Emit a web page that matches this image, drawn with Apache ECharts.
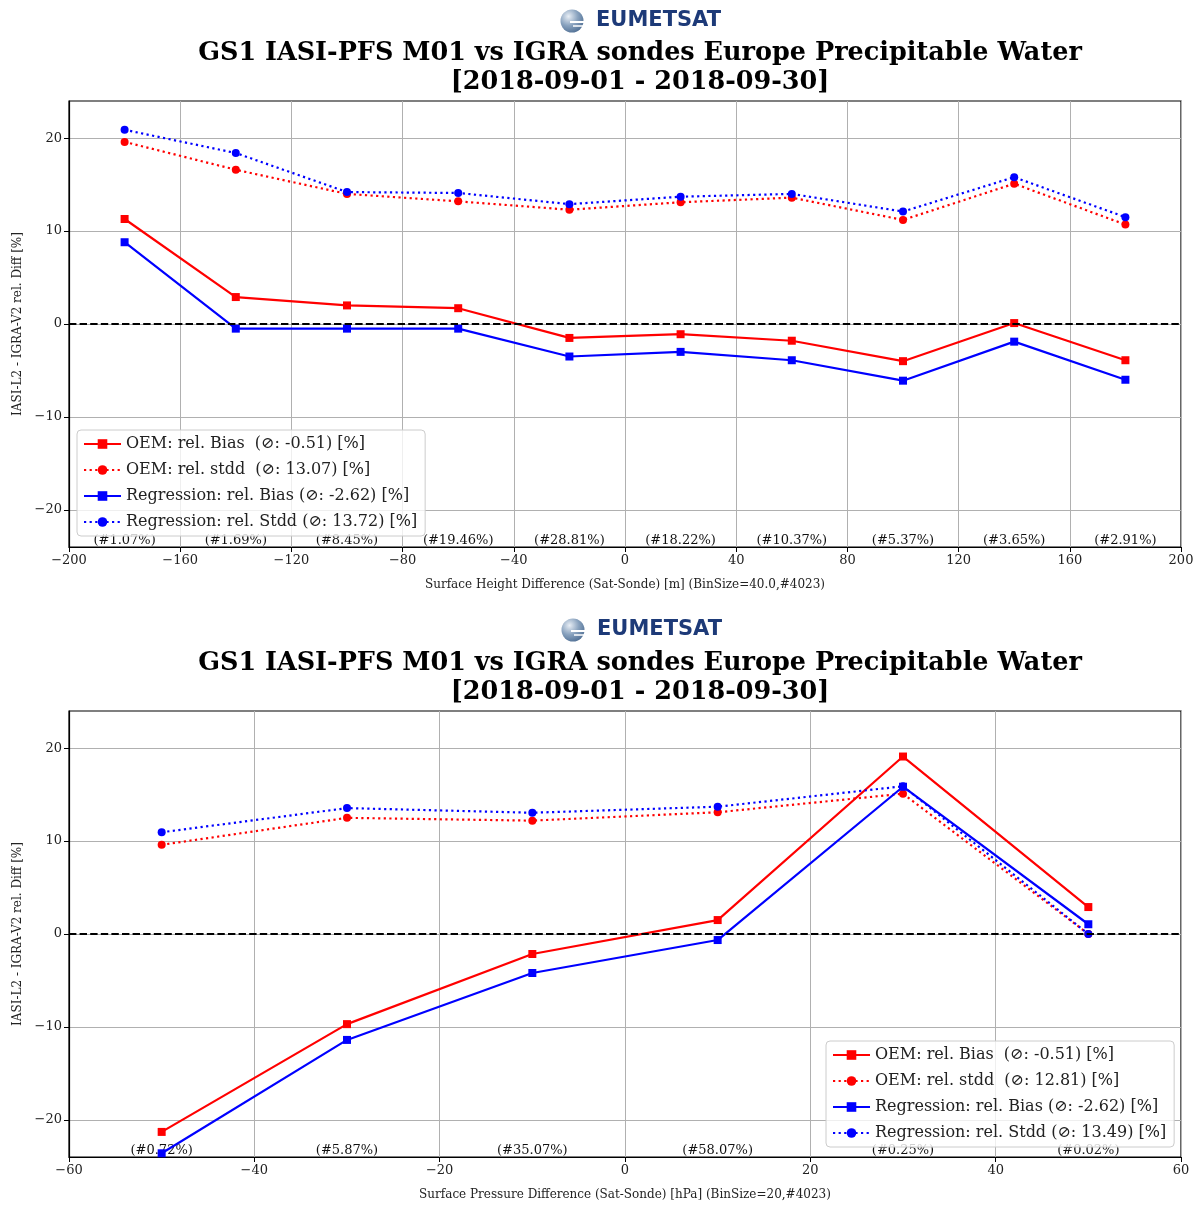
<!DOCTYPE html>
<html>
<head>
<meta charset="utf-8">
<script src="https://cdn.jsdelivr.net/npm/echarts@6/dist/echarts.min.js"></script>
<style>
html,body{margin:0;padding:0;background:#fff;}
#chart{width:1200px;height:1207px;}
</style>
</head>
<body>
<div id="chart"></div>
<script>
// ---------- DATA ----------
const topX = [-180, -140, -100, -60, -20, 20, 60, 100, 140, 180];
const topOemBias = [11.3, 2.9, 2.0, 1.7, -1.5, -1.1, -1.8, -4.0, 0.1, -3.9];
const topOemStdd = [19.6, 16.6, 14.0, 13.2, 12.3, 13.1, 13.6, 11.2, 15.1, 10.7];
const topRegBias = [8.8, -0.5, -0.5, -0.5, -3.5, -3.0, -3.9, -6.1, -1.9, -6.0];
const topRegStdd = [20.9, 18.4, 14.2, 14.1, 12.9, 13.7, 14.0, 12.1, 15.8, 11.5];
const topCounts = ['(#1.07%)', '(#1.69%)', '(#8.45%)', '(#19.46%)', '(#28.81%)', '(#18.22%)', '(#10.37%)', '(#5.37%)', '(#3.65%)', '(#2.91%)'];
const topNames = ['OEM: rel. Bias  (\u2298: -0.51) [%]', 'OEM: rel. stdd  (\u2298: 13.07) [%]', 'Regression: rel. Bias (\u2298: -2.62) [%]', 'Regression: rel. Stdd (\u2298: 13.72) [%]'];

const botX = [-50, -30, -10, 10, 30, 50];
const botOemBias = [-21.3, -9.7, -2.15, 1.5, 19.1, 2.9];
const botOemStdd = [9.6, 12.5, 12.2, 13.1, 15.1, 0.0];
const botRegBias = [-23.6, -11.4, -4.2, -0.65, 15.85, 1.05];
const botRegStdd = [10.95, 13.55, 13.05, 13.7, 15.9, 0.0];
const botCounts = ['(#0.72%)', '(#5.87%)', '(#35.07%)', '(#58.07%)', '(#0.25%)', '(#0.02%)'];
const botNames = ['OEM: rel. Bias  (\u2298: -0.51) [%]', 'OEM: rel. stdd  (\u2298: 12.81) [%]', 'Regression: rel. Bias (\u2298: -2.62) [%]', 'Regression: rel. Stdd (\u2298: 13.49) [%]'];

const yTicks = [-20, -10, 0, 10, 20];
const titleLine1 = 'GS1 IASI-PFS M01 vs IGRA sondes Europe Precipitable Water';
const titleLine2 = '[2018-09-01 - 2018-09-30]';
const topXName = 'Surface Height Difference (Sat-Sonde) [m] (BinSize=40.0,#4023)';
const botXName = 'Surface Pressure Difference (Sat-Sonde) [hPa] (BinSize=20,#4023)';
const yName = 'IASI-L2 - IGRA-V2 rel. Diff [%]';

// ---------- STYLE ----------
const FONT = 'DejaVu Serif';
const RED = '#ff0000', BLUE = '#0000ff';
const fmtMinus = v => String(v).replace('-', '\u2212');
const zip = (xs, ys) => xs.map((x, i) => [x, ys[i]]);

function xAxisCfg(gridIndex, min, max, interval, name) {
  return {
    type: 'value', gridIndex, min, max, interval,
    name, nameLocation: 'middle', nameGap: 32,
    nameTextStyle: { fontFamily: FONT, fontSize: 12, color: '#222' },
    axisLine: { show: true, onZero: false, lineStyle: { color: '#000', width: 1.2 } },
    axisTick: { show: true, length: 5, inside: false, lineStyle: { color: '#000', width: 1 } },
    axisLabel: { fontFamily: FONT, fontSize: 13, color: '#222', margin: 7, formatter: fmtMinus },
    splitLine: { show: true, lineStyle: { color: '#b0b0b0', width: 1 } }
  };
}
function yAxisCfg(gridIndex) {
  return {
    type: 'value', gridIndex, min: -24, max: 24,
    name: yName, nameLocation: 'middle', nameGap: 45,
    nameTextStyle: { fontFamily: FONT, fontSize: 12, color: '#222' },
    axisLine: { show: true, onZero: false, lineStyle: { color: '#000', width: 1.2 } },
    axisTick: { show: true, length: 5, customValues: yTicks, lineStyle: { color: '#000', width: 1 } },
    axisLabel: { fontFamily: FONT, fontSize: 13, color: '#222', margin: 7, customValues: yTicks, formatter: fmtMinus },
    splitLine: { show: true, lineStyle: { color: '#b0b0b0', width: 1 } }
  };
}
function lineSeries(name, idx, xs, ys, color, dotted, zeroLine) {
  const s = {
    type: 'line', name, xAxisIndex: idx, yAxisIndex: idx,
    data: zip(xs, ys),
    symbol: dotted ? 'circle' : 'rect',
    symbolSize: 8,
    showSymbol: true,
    lineStyle: { color, width: 2.2, type: dotted ? [2.2, 3.4] : 'solid' },
    itemStyle: { color },
    emphasis: { disabled: true },
    animation: false,
    z: 3
  };
  if (zeroLine) {
    s.markLine = {
      silent: true, symbol: 'none', animation: false,
      label: { show: false },
      lineStyle: { color: '#000', width: 2, type: [7.4, 3.2] },
      data: [{ yAxis: 0 }]
    };
  }
  return s;
}
function countSeries(idx, xs, labels) {
  return {
    type: 'scatter', xAxisIndex: idx, yAxisIndex: idx,
    data: xs.map((x, i) => ({ value: [x, -24], name: labels[i] })),
    symbolSize: 1, itemStyle: { color: 'rgba(0,0,0,0)' }, clip: false,
    label: { show: true, position: 'top', distance: -1, formatter: '{b}', fontFamily: FONT, fontSize: 13, color: '#111', opacity: 1 },
    labelLayout: { hideOverlap: false },
    emphasis: { disabled: true }, silent: true, animation: false, z: 1
  };
}
function legendCfg(names, left, top) {
  return {
    data: names, orient: 'vertical', left, top,
    itemWidth: 37, itemHeight: 12, itemGap: 8,
    padding: [5, 8, 5, 6],
    backgroundColor: 'rgba(255,255,255,0.8)',
    borderColor: '#cccccc', borderWidth: 1, borderRadius: 4,
    selectedMode: false,
    textStyle: { fontFamily: FONT, fontSize: 16, color: '#222', lineHeight: 18 }
  };
}
function logo(cx, cy) {
  return [
    { type: 'circle', shape: { cx, cy, r: 11.5 },
      style: { fill: { type: 'radial', x: 0.35, y: 0.3, r: 0.8,
        colorStops: [{ offset: 0, color: '#e8eef5' }, { offset: 0.5, color: '#8aa3bf' }, { offset: 1, color: '#4a6a90' }] } } },
    { type: 'line', shape: { x1: cx - 2, y1: cy + 1, x2: cx + 13, y2: cy + 1 }, style: { stroke: '#ffffff', lineWidth: 2 } },
    { type: 'line', shape: { x1: cx + 1, y1: cy + 5, x2: cx + 13, y2: cy + 5 }, style: { stroke: '#ffffff', lineWidth: 1.5 } },
    { type: 'text', x: cx + 24, y: cy, style: { text: 'EUMETSAT', font: 'bold 21px "DejaVu Sans"', fill: '#1d3a78', textVerticalAlign: 'middle' } }
  ];
}
function title(cy1) {
  return [
    { type: 'text', x: 640, y: cy1, style: { text: titleLine1, font: 'bold 25.5px "DejaVu Serif"', fill: '#000', textAlign: 'center', textVerticalAlign: 'middle' } },
    { type: 'text', x: 640, y: cy1 + 29, style: { text: titleLine2, font: 'bold 25.5px "DejaVu Serif"', fill: '#000', textAlign: 'center', textVerticalAlign: 'middle' } }
  ];
}

const option = {
  backgroundColor: '#fff',
  animation: false,
  grid: [
    { left: 69, top: 101, width: 1112, height: 446, show: true, borderColor: '#000', borderWidth: 1.2, backgroundColor: 'transparent', outerBoundsMode: 'none', containLabel: false },
    { left: 69, top: 711, width: 1112, height: 446, show: true, borderColor: '#000', borderWidth: 1.2, backgroundColor: 'transparent', outerBoundsMode: 'none', containLabel: false }
  ],
  xAxis: [
    xAxisCfg(0, -200, 200, 40, topXName),
    xAxisCfg(1, -60, 60, 20, botXName)
  ],
  yAxis: [yAxisCfg(0), yAxisCfg(1)],
  legend: [legendCfg(topNames, 77, 430), legendCfg(botNames, 826, 1041)],
  series: [
    lineSeries(topNames[0], 0, topX, topOemBias, RED, false, true),
    lineSeries(topNames[1], 0, topX, topOemStdd, RED, true, false),
    lineSeries(topNames[2], 0, topX, topRegBias, BLUE, false, false),
    lineSeries(topNames[3], 0, topX, topRegStdd, BLUE, true, false),
    countSeries(0, topX, topCounts),
    lineSeries(botNames[0], 1, botX, botOemBias, RED, false, true),
    lineSeries(botNames[1], 1, botX, botOemStdd, RED, true, false),
    lineSeries(botNames[2], 1, botX, botRegBias, BLUE, false, false),
    lineSeries(botNames[3], 1, botX, botRegStdd, BLUE, true, false),
    countSeries(1, botX, botCounts)
  ],
  graphic: [].concat(logo(572, 21), title(53), logo(573, 630), title(663))
};

const chart = echarts.init(document.getElementById('chart'), null, { renderer: 'canvas' });
chart.setOption(option);
</script>
</body>
</html>
